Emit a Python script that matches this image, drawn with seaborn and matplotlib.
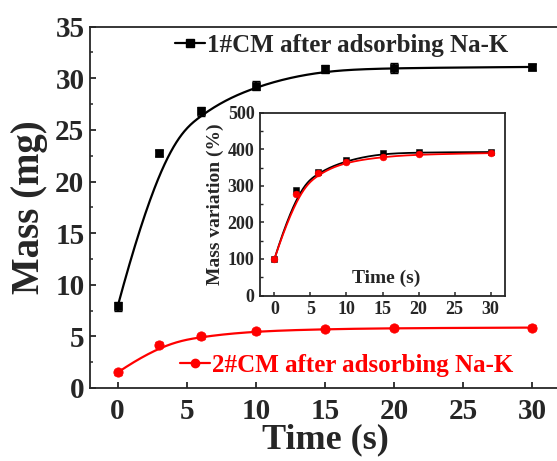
import numpy as np
import pandas as pd
import matplotlib
matplotlib.use("Agg")
import matplotlib.pyplot as plt
import seaborn as sns
from matplotlib.lines import Line2D
from matplotlib.ticker import MultipleLocator

# data
time_s = [0, 3, 6, 10, 15, 20, 30]
mass_1 = [7.9, 22.8, 26.8, 29.3, 30.9, 31.0, 31.1]
err_1 = [0.4, 0.3, 0.45, 0.45, 0.35, 0.45, 0.3]
mass_2 = [1.5, 4.2, 5.0, 5.5, 5.7, 5.8, 5.85]
err_2 = [0.25, 0.25, 0.25, 0.25, 0.2, 0.2, 0.25]
var_1 = [100, 288, 338, 370, 390, 392, 393]
var_2 = [100, 278, 335, 366, 380, 387, 390]
label_1 = "1#CM after adsorbing Na-K"
label_2 = "2#CM after adsorbing Na-K"


def bspline(px, py, n=400, k=3):
    # clamped cubic B-spline with the points as control points (Origin style)
    P = np.column_stack([px, py]).astype(float)
    m = len(P)
    knots = np.concatenate([np.zeros(k), np.linspace(0, 1, m - k + 1), np.ones(k)])
    u = np.linspace(0, 1, n)
    u[-1] -= 1e-9
    N = np.zeros((n, len(knots) - 1))
    for i in range(len(knots) - 1):
        N[:, i] = (knots[i] <= u) & (u < knots[i + 1])
    for d in range(1, k + 1):
        Nn = np.zeros((n, len(knots) - 1 - d))
        for i in range(len(knots) - 1 - d):
            a = knots[i + d] - knots[i]
            b = knots[i + d + 1] - knots[i + 1]
            t1 = (u - knots[i]) / a * N[:, i] if a > 0 else 0
            t2 = (knots[i + d + 1] - u) / b * N[:, i + 1] if b > 0 else 0
            Nn[:, i] = t1 + t2
        N = Nn
    C = N @ P
    return pd.DataFrame({"x": C[:, 0], "y": C[:, 1]})


sns.set_style("ticks")
plt.rcParams["font.family"] = ["Liberation Serif", "DejaVu Serif"]
plt.rcParams["font.weight"] = "bold"
plt.rcParams["axes.labelweight"] = "bold"
plt.rcParams["axes.linewidth"] = 1.3

fig = plt.figure(figsize=(5.57, 4.61), dpi=100)
ax = fig.add_axes([0.1616, 0.1584, 0.8438, 0.7837])

df1 = pd.DataFrame({"t": time_s, "m": mass_1})
df2 = pd.DataFrame({"t": time_s, "m": mass_2})

sns.lineplot(data=bspline(time_s, mass_1), x="x", y="y", color="black", lw=1.6, ax=ax)
sns.lineplot(data=bspline(time_s, mass_2), x="x", y="y", color="red", lw=1.6, ax=ax)
ax.errorbar(time_s, mass_1, yerr=err_1, fmt="none", ecolor="black", elinewidth=1.5, capsize=3)
ax.errorbar(time_s, mass_2, yerr=err_2, fmt="none", ecolor="red", elinewidth=1.5, capsize=3)
sns.scatterplot(data=df1, x="t", y="m", marker="s", s=40, color="black", edgecolor="black", ax=ax, zorder=3)
sns.scatterplot(data=df2, x="t", y="m", marker="o", s=45, color="red", edgecolor="red", ax=ax, zorder=3)

ax.set_xlim(-2, 32)
ax.set_ylim(0, 35)
ax.xaxis.set_major_locator(MultipleLocator(5))
ax.yaxis.set_major_locator(MultipleLocator(5))
ax.yaxis.set_minor_locator(MultipleLocator(2.5))
ax.tick_params(which="both", direction="in", top=False, right=False)
ax.tick_params(which="major", length=4, width=1.3, labelsize=21)
ax.tick_params(which="minor", length=2.5, width=1.1)
ax.tick_params(axis="x", pad=7)
ax.tick_params(axis="y", pad=4)
for lab in ax.get_xticklabels() + ax.get_yticklabels():
    lab.set_fontweight("bold")

ax.set_xlabel("Time (s)", fontsize=26, fontweight="bold")
ax.set_ylabel("Mass (mg)", fontsize=28, fontweight="bold")
ax.xaxis.label.set_va("center")
ax.xaxis.set_label_coords(0.5, -0.144)
ax.yaxis.label.set_va("center")
ax.yaxis.set_label_coords(-0.128, 0.5)

h1 = [Line2D([], [], color="black", marker="s", markersize=6, lw=1.6)]
h2 = [Line2D([], [], color="red", marker="o", markersize=6, lw=1.6)]
leg1 = ax.legend(h1, [label_1], loc="center left", bbox_to_anchor=(0.314, 0.902),
                 bbox_transform=fig.transFigure, frameon=False,
                 handlelength=1.2, handletextpad=0.1, borderpad=0, borderaxespad=0,
                 prop={"weight": "bold", "size": 18})
ax.add_artist(leg1)
ax.legend(h2, [label_2], loc="center left", bbox_to_anchor=(0.323, 0.208),
          bbox_transform=fig.transFigure, frameon=False, labelcolor="red",
          handlelength=1.2, handletextpad=0.1, borderpad=0, borderaxespad=0,
          prop={"weight": "bold", "size": 18})

# inset
ins = fig.add_axes([0.4668, 0.359, 0.4399, 0.3959])
ins.set_facecolor("white")
sns.lineplot(data=bspline(time_s, var_1), x="x", y="y", color="black", lw=1.3, ax=ins)
sns.lineplot(data=bspline(time_s, var_2), x="x", y="y", color="red", lw=1.3, ax=ins)
sns.scatterplot(x=time_s, y=var_1, marker="s", s=22, color="black", edgecolor="black", ax=ins, zorder=3)
sns.scatterplot(x=time_s, y=var_2, marker="o", s=24, color="red", edgecolor="red", ax=ins, zorder=3)
ins.set_xlim(-2, 32)
ins.set_ylim(0, 500)
ins.xaxis.set_major_locator(MultipleLocator(5))
ins.yaxis.set_major_locator(MultipleLocator(100))
ins.yaxis.set_minor_locator(MultipleLocator(50))
ins.tick_params(which="both", direction="in", top=False, right=False)
ins.tick_params(which="major", length=3, width=1.1, labelsize=13, pad=4)
ins.tick_params(which="minor", length=2, width=1.0)
for lab in ins.get_xticklabels() + ins.get_yticklabels():
    lab.set_fontweight("bold")
ins.set_xlabel("")
ins.set_ylabel("Mass variation (%)", fontsize=14, fontweight="bold")
ins.yaxis.label.set_va("center")
ins.yaxis.set_label_coords(-0.184, 0.5)
ins.text(0.513, 0.096, "Time (s)", transform=ins.transAxes, ha="center", va="center",
         fontsize=14, fontweight="bold")

fig.savefig("out.png", dpi=100)
